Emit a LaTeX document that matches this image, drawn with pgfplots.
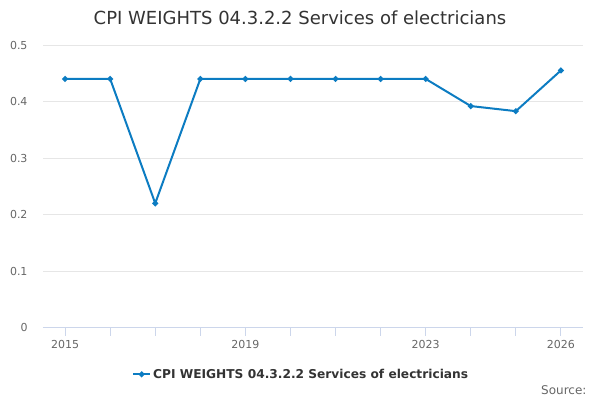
\documentclass[border=0pt]{standalone}
\usepackage{pgfplots}
\pgfplotsset{compat=1.18}
\usepackage{fontspec}
\setmainfont{DejaVu Sans}
\definecolor{linec}{HTML}{0C7CC2}
\definecolor{axc}{HTML}{CCD6EB}
\definecolor{gridc}{HTML}{E6E6E6}
\definecolor{labc}{HTML}{666666}
\definecolor{titc}{HTML}{333333}
\begin{document}
\begin{tikzpicture}[x=1pt,y=1pt]
\path[use as bounding box] (0,0) rectangle (600,400);
\begin{axis}[
  at={(43pt,72.3pt)}, anchor=south west,
  width=540pt, height=282.7pt, scale only axis,
  xmin=2014.51, xmax=2026.49, ymin=0, ymax=0.5,
  xtick={2015,...,2026},
  xticklabels={2015,,,,2019,,,,2023,,,2026},
  ytick={0,0.1,0.2,0.3,0.4,0.5},
  yticklabels={0,0.1,0.2,0.3,0.4,0.5},
  axis x line*=bottom, axis y line*=left,
  x axis line style={axc, line width=1pt, -},
  y axis line style={draw=none},
  ymajorgrids, grid style={gridc, line width=0.8pt},
  tick align=outside, major tick length=8pt,
  xtick style={axc, line width=1pt},
  ytick style={draw=none},
  x tick label style={font=\fontsize{11}{13}\selectfont, text=labc, yshift=-1pt},
  y tick label style={font=\fontsize{11}{13}\selectfont, text=labc},
  yticklabel style={xshift=-4pt},
  legend style={at={(0.478,-0.165)}, anchor=center, draw=none, fill=none,
    font=\bfseries\fontsize{12.2}{14}\selectfont, text=titc},
]
\addplot[linec, line width=2pt, mark=*, mark size=1.8pt] coordinates {
(2015,0.44) (2016,0.44) (2017,0.22) (2018,0.44) (2019,0.44) (2020,0.44)
(2021,0.44) (2022,0.44) (2023,0.44) (2024,0.392) (2025,0.383) (2026,0.455)
};
\addlegendentry{CPI WEIGHTS 04.3.2.2 Services of electricians}
\end{axis}
\node[text=titc, font=\fontsize{18}{21}\selectfont] at (300,382) {CPI WEIGHTS 04.3.2.2 Services of electricians};
\node[anchor=east, text=labc, font=\fontsize{12}{14}\selectfont] at (590,10) {Source:};
\end{tikzpicture}
\end{document}
